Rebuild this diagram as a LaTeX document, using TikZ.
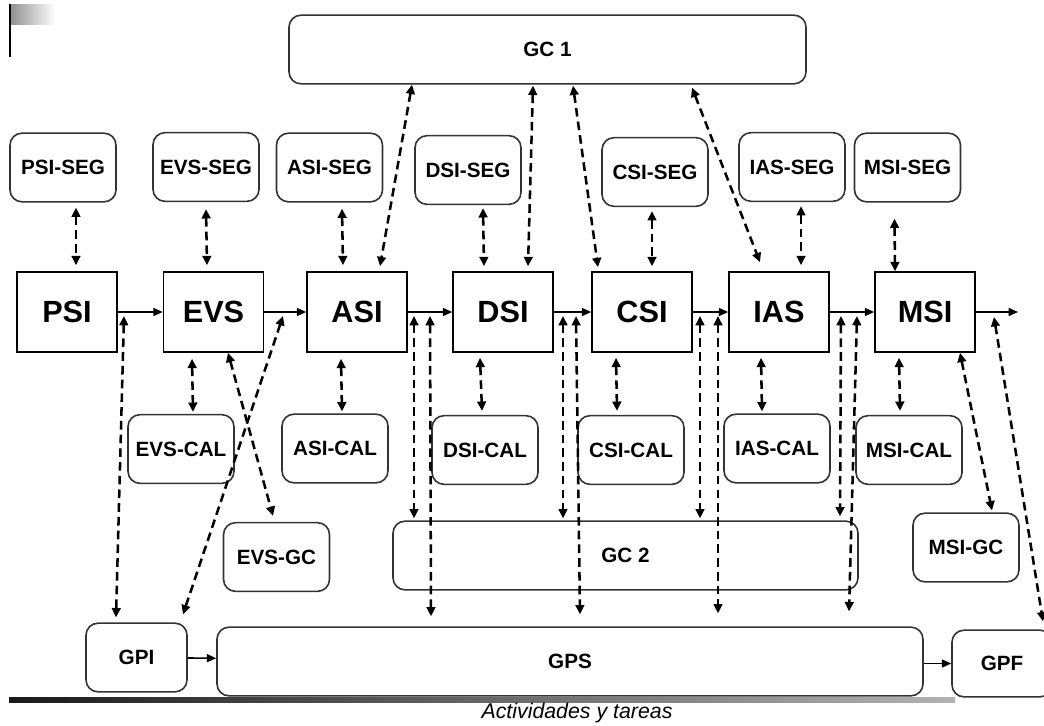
\documentclass[tikz,border=0pt]{standalone}
\usepackage{fontspec}
\setmainfont{Liberation Sans}
\usetikzlibrary{arrows.meta,calc,positioning}

\begin{document}
\begin{tikzpicture}[x=0.75pt,y=-0.75pt,
  stage/.style={draw,line width=1.2pt,inner sep=0pt,minimum width=75pt,minimum height=60pt,font=\fontsize{23}{26}\selectfont\bfseries},
  subbox/.style={draw=black!80,line width=1.2pt,rounded corners=9pt,inner sep=0pt,minimum width=79.5pt,minimum height=51.5pt,font=\fontsize{15.5}{18}\selectfont\bfseries},
  flowarr/.style={line width=1.2pt,-{Triangle[length=7pt,width=6pt]}},
  dlink/.style={line width=1.9pt,dash pattern=on 6.5pt off 3.8pt,{Triangle[length=7pt,width=6.5pt]}-{Triangle[length=7pt,width=6.5pt]}}]
  \useasboundingbox (0,0) rectangle (1044,725);
  \clip (0,0) rectangle (1044,725);
  \fill[white] (0,0) rectangle (1044,725);
  % frame marks
  \shade[left color=black!45,right color=white] (9,4) rectangle (55,24);
  \draw[line width=1.3pt] (10,4) -- (10,57);
  \shade[left color=black!90,right color=black!30] (9,697) rectangle (955,702);
  % phases
  \node[stage] (psi) at (67,312) {PSI};
  \node[stage] (evs) at (213.5,312) {EVS};
  \node[stage] (asi) at (357,312) {ASI};
  \node[stage] (dsi) at (503,312) {DSI};
  \node[stage] (csi) at (642,312) {CSI};
  \node[stage] (ias) at (779,312) {IAS};
  \node[stage] (msi) at (925,312) {MSI};
  % top row
  \node[subbox,minimum width=387.75pt] (gc1) at (547.5,49.5) {GC 1};
  \node[subbox] (psiseg) at (63,167.5) {PSI-SEG};
  \node[subbox] (evsseg) at (206,167) {EVS-SEG};
  \node[subbox] (asiseg) at (329.5,167.5) {ASI-SEG};
  \node[subbox] (dsiseg) at (468,170) {DSI-SEG};
  \node[subbox] (csiseg) at (655,172) {CSI-SEG};
  \node[subbox] (iasseg) at (792,167) {IAS-SEG};
  \node[subbox] (msiseg) at (907.5,167.5) {MSI-SEG};
  % bottom rows
  \node[subbox] (evscal) at (181,449) {EVS-CAL};
  \node[subbox] (asical) at (335,448.5) {ASI-CAL};
  \node[subbox] (dsical) at (485,450) {DSI-CAL};
  \node[subbox] (csical) at (631,450) {CSI-CAL};
  \node[subbox] (iascal) at (777,448.5) {IAS-CAL};
  \node[subbox] (msical) at (909,450) {MSI-CAL};
  \node[subbox] (evsgc) at (276.5,557) {EVS-GC};
  \node[subbox] (msigc) at (966,547.5) {MSI-GC};
  \node[subbox,minimum width=348.75pt] (gc2) at (625.5,555.5) {GC 2};
  \node[subbox,minimum width=75.75pt] (gpi) at (136.5,657.5) {GPI};
  \node[subbox,minimum width=529.5pt] (gps) at (570,661.5) {GPS};
  \node[subbox,minimum width=75pt,minimum height=50pt] (gpf) at (1002,663.5) {GPF};
  \node[font=\fontsize{16}{19}\selectfont\itshape] (cap) at (577,713) {Actividades y tareas};
  % flow
  \coordinate (out) at (1018,312);
  \draw[flowarr] (psi) -- (evs);
  \draw[flowarr] (evs) -- (asi);
  \draw[flowarr] (asi) -- (dsi);
  \draw[flowarr] (dsi) -- (csi);
  \draw[flowarr] (csi) -- (ias);
  \draw[flowarr] (ias) -- (msi);
  \draw[flowarr] (msi) -- (out);
  \draw[flowarr] (gpi) -- (gps);
  \draw[flowarr] (gps.east |- gpf.west) -- (gpf.west);
  % taps on the flow
  \coordinate (pe) at (124,316);
  \coordinate (ea) at (283,316);
  \coordinate (ad1) at (414,316);
  \coordinate (ad2) at (430,316);
  \coordinate (dc1) at (563,316);
  \coordinate (dc2) at (576,316);
  \coordinate (ci1) at (700,316);
  \coordinate (ci2) at (718,316);
  \coordinate (im1) at (841,316);
  \coordinate (im2) at (857,316);
  \coordinate (mo) at (994,317);
  % seguimiento
  \draw[dlink] ($(psiseg.south)+(13,5)$) -- ($(psi.north)+(9,-6)$);
  \draw[dlink] ($(evsseg.south)+(0,7)$) -- ($(evs.north)+(-6.5,-6)$);
  \draw[dlink] ($(asiseg.south)+(12.5,6)$) -- ($(asi.north)+(-14,-6)$);
  \draw[dlink] ($(dsiseg.south)+(15,3)$) -- ($(dsi.north)+(-19,-5)$);
  \draw[dlink] ($(csiseg.south)+(-3,4)$) -- ($(csi.north)+(10,-5)$);
  \draw[dlink] ($(iasseg.south)+(9,4)$) -- ($(ias.north)+(22,-6)$);
  \draw[dlink] ($(msiseg.south)+(-13,16)$) -- ($(msi.north)+(-30,0)$);
  % gc 1
  \draw[dlink] ($(gc1.south)+(-135.5,0)$) -- ($(asi.north)+(23,-5)$);
  \draw[dlink] ($(gc1.south)+(-14.5,1)$) -- ($(dsi.north)+(25,-5)$);
  \draw[dlink] ($(gc1.south)+(25.5,1)$) -- ($(csi.north)+(-44,-4)$);
  \draw[dlink] ($(gc1.south)+(144.5,3)$) -- ($(ias.north)+(-19,-9)$);
  % calidad
  \draw[dlink] ($(evs.south)+(-21.5,6)$) -- ($(evscal.north)+(12,-2)$);
  \draw[dlink] ($(asi.south)+(-16,6)$) -- ($(asical.north)+(7,-2)$);
  \draw[dlink] ($(dsi.south)+(-23,5)$) -- ($(dsical.north)+(-3,-4)$);
  \draw[dlink] ($(csi.south)+(-26,5)$) -- ($(csical.north)+(-14,-4)$);
  \draw[dlink] ($(ias.south)+(-18,5)$) -- ($(iascal.north)+(-15,-2)$);
  \draw[dlink] ($(msi.south)+(-26,5)$) -- ($(msical.north)+(-9,-4)$);
  \draw[dlink] ($(evs.south)+(14.5,0)$) -- ($(evsgc.north)+(-3.5,-6)$);
  \draw[dlink] ($(msi.south)+(35,0)$) -- ($(msigc.north)+(26,-2)$);
  % gpi, gc 2, gps, gpf
  \draw[dlink] (pe) -- ($(gpi.north)+(-20.5,-5)$);
  \draw[dlink] (ea) -- ($(gpi.north)+(46.5,-8)$);
  \draw[dlink] (ad1) -- ($(gc2.north)+(-211.5,-2)$);
  \draw[dlink] (ad2) -- ($(gps.north)+(-139,-10)$);
  \draw[dlink] (dc1) -- ($(gc2.north)+(-62.5,-2)$);
  \draw[dlink] (dc2) -- ($(gps.north)+(10,-12)$);
  \draw[dlink] (ci1) -- ($(gc2.north)+(74.5,-2)$);
  \draw[dlink] (ci2) -- ($(gps.north)+(148,-13)$);
  \draw[dlink] (im1) -- ($(gc2.north)+(214.5,-4)$);
  \draw[dlink] (im2) -- ($(gps.north)+(279,-15)$);
  \draw[dlink] (mo) -- ($(gpf.north)+(41,-8)$);
\end{tikzpicture}
\end{document}
